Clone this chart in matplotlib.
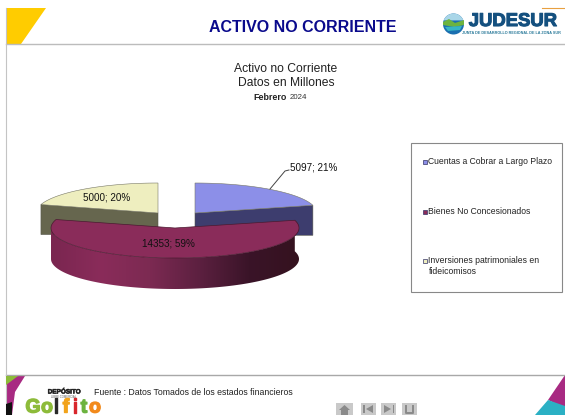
import numpy as np
import matplotlib
matplotlib.use('Agg')
import matplotlib.pyplot as plt
import matplotlib.patheffects as pe
from matplotlib.patches import Polygon, Rectangle, Circle

plt.rcParams['font.family'] = ['Liberation Sans', 'DejaVu Sans']

# chart data
categories = ['Cuentas a Cobrar a Largo Plazo', 'Bienes No Concesionados',
              'Inversiones patrimoniales en\nfideicomisos']
values = [5097, 14353, 5000]
percent_labels = ['21%', '59%', '20%']

TOP_COLORS = ['#8c8fe8', '#8a2c5a', '#eeeebf']
SIDE_COLORS = ['#3d3d6e', '#6e2348', '#66664e']
NAVY = '#0a0a8c'

W, H = 565, 415
fig = plt.figure(figsize=(W / 100, H / 100), dpi=100)
ax = fig.add_axes([0, 0, 1, 1])
ax.set_xlim(0, W)
ax.set_ylim(H, 0)
ax.axis('off')

# pie geometry in pixels, the slices are pulled apart
APEX = [(195, 213), (175, 228), (158, 213)]
RX, RY = [122, 124, 122], [30, 30, 30]
DEPTH = 30


def arc(cx, cy, rx, ry, a0, a1, n=80):
    t = np.radians(np.linspace(a0, a1, n))
    return np.column_stack([cx + rx * np.cos(t), cy - ry * np.sin(t)])


# slice angles, clockwise from 12 o'clock
angles = 90 - np.cumsum([0] + values) / sum(values) * 360


def draw_flat_slice(i, zorder):
    cx, cy = APEX[i]
    edge = arc(cx, cy, RX[i], RY[i], angles[i], angles[i + 1])
    # cut faces seen from the front
    corner = edge[-1] if i == 0 else edge[0]
    side = [(cx, cy), corner, corner + (0, DEPTH), (cx, corner[1] + DEPTH)]
    ax.add_patch(Polygon(side, fc=SIDE_COLORS[i], ec='#55554a', lw=0.4, zorder=zorder))
    ax.add_patch(Polygon(np.vstack([[cx, cy], edge]), fc=TOP_COLORS[i],
                         ec='#777766', lw=0.4, zorder=zorder + 1))


draw_flat_slice(0, 2)
draw_flat_slice(2, 2)

# front slice with its shaded rim
cx, cy = APEX[1]
top_edge = arc(cx, cy, RX[1], RY[1], angles[1], angles[2], 160)
lo = np.argmin(top_edge[:, 0])
rim_top = top_edge[:lo + 1]
rim_poly = np.vstack([rim_top, rim_top[::-1] + (0, DEPTH + 1)])
rim_patch = Polygon(rim_poly, fc='none', ec='none', zorder=4)
ax.add_patch(rim_patch)
shade = matplotlib.colors.LinearSegmentedColormap.from_list(
    'rim', ['#7a2650', '#8a2c5a', '#7c2a52', '#5c2040', '#3a1428', '#35121f'])
grad = np.linspace(0, 1, 256).reshape(1, -1)
im = ax.imshow(grad, cmap=shade, extent=(cx - RX[1], cx + RX[1], 295, 215),
               aspect='auto', zorder=4)
im.set_clip_path(rim_patch)
ax.set_xlim(0, W)
ax.set_ylim(H, 0)
ax.add_patch(Polygon(np.vstack([[cx, cy], top_edge]), fc=TOP_COLORS[1],
                     ec='#4a1a30', lw=0.5, zorder=5))

# data labels
label_pos = [(290, 167), (168, 243), (107, 197)]
for i in range(3):
    ax.text(label_pos[i][0], label_pos[i][1], f'{values[i]}; {percent_labels[i]}',
            fontsize=7.1, ha='left' if i == 0 else 'center', va='center',
            color='#111111', zorder=8)
ax.plot([270, 285, 289], [189, 171, 170], color='#444444', lw=0.7, zorder=8)

# chart titles
ax.text(286, 69, 'Activo no Corriente', fontsize=8.7, ha='center', va='center', color='#222222')
ax.text(286, 83, 'Datos en Millones', fontsize=8.7, ha='center', va='center', color='#222222')
ax.text(270, 97, 'Febrero', fontsize=6.4, fontweight='bold', ha='center', va='center', color='#222222')
ax.text(298.5, 97, '2024', fontsize=5.7, ha='center', va='center', color='#333333')

# legend box
ax.add_patch(Rectangle((410.5, 142.5), 151, 149, fc='white', ec='#888888', lw=0.8, zorder=6))
legend_y = [162, 212, 261]
for i in range(3):
    ax.add_patch(Rectangle((423, legend_y[i] - 2), 4, 4, fc=TOP_COLORS[i], ec='#333366', lw=0.5, zorder=7))
    ax.text(428.5, legend_y[i] - 0.5 if i < 2 else legend_y[i] + 5, categories[i],
            fontsize=6.2, va='center', ha='left', color='#222222', zorder=7, linespacing=1.15)

# page frame
ax.plot([6, 565], [44, 44], color='#bcbcbc', lw=1.0)
ax.plot([565, 6], [375, 375], color='#a8a8a8', lw=1.0)
ax.plot([6, 6], [8, 415], color='#c4c4c4', lw=0.8)

# header
ax.add_patch(Polygon([(6, 8), (46, 8), (21, 44), (6, 44)], fc='#ffcc00', ec='none'))
ax.text(303, 27, 'ACTIVO NO CORRIENTE', fontsize=11.5, fontweight='bold',
        color=NAVY, ha='center', va='center')
ax.plot([542, 565], [8, 8], color='#e8a040', lw=0.8)

# logo
ax.add_patch(Circle((453.5, 24), 10.5, fc='#1a6fb0', ec='none'))
ax.add_patch(Polygon(arc(453.5, 24, 10.5, 10.5, 20, 160), fc='#a9d6e8', ec='none', zorder=3))
ax.add_patch(Polygon([(443, 22), (449, 19), (455, 23), (464, 20), (464, 25), (454, 27), (443, 25)],
                     fc='#6cb33f', ec='none', zorder=3))
ax.add_patch(Polygon([(445, 27), (462, 26), (460, 30), (448, 31)], fc='#35b5c5', ec='none', zorder=3))
ax.text(513, 21.5, 'JUDESUR', fontsize=13.3, fontweight='bold', color='#14507f',
        ha='center', va='center', zorder=3,
        path_effects=[pe.withStroke(linewidth=0.8, foreground='#14507f')])
ax.text(511, 33.5, 'JUNTA DE DESARROLLO REGIONAL DE LA ZONA SUR', fontsize=2.7,
        fontweight='bold', color='#2a7a9a', ha='center', va='center')

# footer, left corner
ax.add_patch(Polygon([(6, 376), (25, 376), (15, 392), (12, 415), (6, 415)], fc='#a82a82', ec='none'))
ax.add_patch(Polygon([(6, 376), (18, 376), (6, 385)], fc='#8dbb3a', ec='none', zorder=3))
ax.add_patch(Polygon([(6, 404), (12, 402), (12, 415), (6, 415)], fc='#111111', ec='none', zorder=3))
ax.text(64, 392, 'DEPÓSITO', fontsize=4.6, fontweight='bold', color='#222222', ha='center', va='center',
        path_effects=[pe.withStroke(linewidth=0.4, foreground='#222222')])
ax.text(64, 396.5, 'LIBRE COMERCIAL', fontsize=2.0, color='#555555', ha='center', va='center')
golfito_x = [33, 47, 56, 66, 75, 84, 95]
golfito_c = ['#8dbb3a', '#8dbb3a', '#2a2a2a', '#f2a31b', '#d8262c', '#6cb33f', '#f28a1b']
for x, ch, c in zip(golfito_x, 'Golfito', golfito_c):
    ax.text(x, 408, ch, fontsize=14, fontweight='bold', color=c, ha='center', va='center',
            path_effects=[pe.withStroke(linewidth=1.0, foreground=c)])
ax.text(94, 392, 'Fuente : Datos Tomados de los estados financieros', fontsize=6.3,
        color='#222222', ha='left', va='center')

# nav buttons
for x0, w in [(336, 17), (361, 15), (381, 15), (402, 15)]:
    ax.add_patch(Rectangle((x0, 403), w, 12, fc='#c9c9c9', ec='none'))
ax.add_patch(Polygon([(339, 410), (344.5, 405), (350, 410)], fc='#8a8a8a', ec='none', zorder=3))
ax.add_patch(Rectangle((341, 410), 7, 5, fc='#8a8a8a', ec='none', zorder=3))
ax.add_patch(Polygon([(373, 405), (373, 413), (366, 409)], fc='#8a8a8a', ec='none', zorder=3))
ax.add_patch(Rectangle((363, 405), 1.5, 8, fc='#8a8a8a', ec='none', zorder=3))
ax.add_patch(Polygon([(384, 405), (384, 413), (391, 409)], fc='#8a8a8a', ec='none', zorder=3))
ax.add_patch(Rectangle((392.5, 405), 1.5, 8, fc='#8a8a8a', ec='none', zorder=3))
ax.plot([406, 406, 413, 413], [406, 413, 413, 406], color='#8a8a8a', lw=1.4, zorder=3)

# footer, right corner
ax.add_patch(Polygon([(565, 375), (565, 408), (548, 400)], fc='#a82a82', ec='none'))
ax.add_patch(Polygon([(548, 400), (565, 406), (565, 415), (535, 415)], fc='#2bb0c4', ec='none', zorder=3))

fig.savefig('out.png', dpi=100)
